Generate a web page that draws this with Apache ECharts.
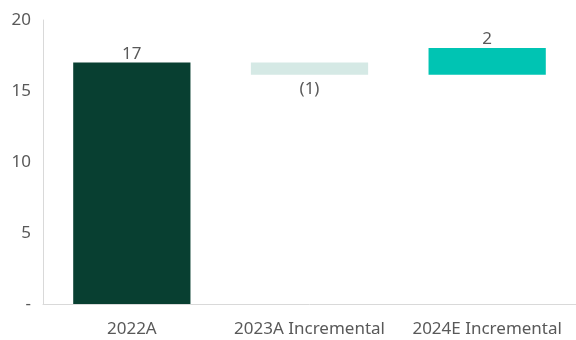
<!DOCTYPE html>
<html>
<head>
<meta charset="utf-8">
<script src="https://cdn.jsdelivr.net/npm/echarts@6/dist/echarts.min.js"></script>
<style>
  html, body { margin: 0; padding: 0; background: #ffffff; }
  #chart { width: 576px; height: 340px; }
</style>
</head>
<body>
<div id="chart"></div>
<script>
// Waterfall: starting value followed by incremental changes
const categories = ['2022A', '2023A Incremental', '2024E Incremental'];
const changes = [17.0, -0.85, 1.88];
const barColors = ['#083f31', '#d5e9e5', '#00c4b3'];
const yTicks = [0, 5, 10, 15, 20];

// Build the invisible base and visible segment for each step
const base = [];
const segment = [];
let running = 0;
changes.forEach((v, i) => {
  if (i === 0) {
    base.push(0);
    segment.push(v);
    running = v;
  } else {
    const next = running + v;
    base.push(Math.min(running, next));
    segment.push(Math.abs(v));
    running = next;
  }
});

function fmt(v) {
  const r = Math.round(Math.abs(v));
  return v < 0 ? '(' + r + ')' : String(r);
}

const font = 'Noto Sans';
const textColor = '#595959';
const chart = echarts.init(document.getElementById('chart'));
chart.setOption({
  animation: false,
  grid: { left: 43, right: -4, top: 20, bottom: 36, containLabel: false },
  xAxis: {
    type: 'category',
    data: categories,
    axisLine: { lineStyle: { color: '#d9d9d9', width: 1 } },
    axisTick: { show: false },
    axisLabel: {
      color: textColor, fontSize: 17, fontFamily: font, margin: 17,
      interval: 0, hideOverlap: false
    }
  },
  yAxis: {
    type: 'value',
    min: yTicks[0],
    max: yTicks[yTicks.length - 1],
    interval: 5,
    splitLine: { show: false },
    axisLine: { show: true, lineStyle: { color: '#d9d9d9', width: 1 } },
    axisTick: { show: false },
    axisLabel: {
      color: textColor, fontSize: 17, fontFamily: font, margin: 12,
      formatter: v => (v === 0 ? '-' : String(v))
    }
  },
  series: [
    {
      type: 'bar',
      stack: 'wf',
      data: base,
      itemStyle: { color: 'transparent' },
      silent: true,
      barWidth: '66%'
    },
    {
      type: 'bar',
      stack: 'wf',
      barWidth: '66%',
      data: segment.map((s, i) => ({
        value: s,
        itemStyle: { color: barColors[i] },
        label: {
          show: true,
          position: changes[i] < 0 ? 'bottom' : 'top',
          distance: changes[i] < 0 ? 6 : 0,
          formatter: () => fmt(changes[i]),
          color: textColor,
          fontSize: 17,
          fontFamily: font
        }
      }))
    }
  ]
});
</script>
</body>
</html>
